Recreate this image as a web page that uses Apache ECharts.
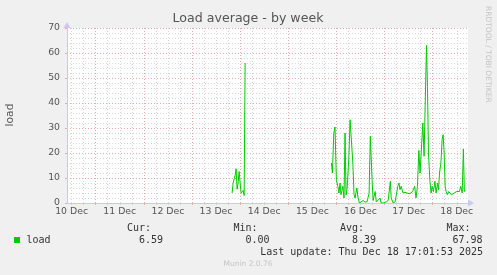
<!DOCTYPE html>
<html>
<head>
<meta charset="utf-8">
<script src="https://cdn.jsdelivr.net/npm/echarts@6/dist/echarts.min.js"></script>
<style>html,body{margin:0;padding:0;background:#f0f0f0;}#c{width:497px;height:275px;}</style>
</head>
<body>
<div id="c"></div>
<script>
// hours since 10 Dec 00:00
var hours = [
  92.0, 92.5, 93.0, 93.5, 94.0, 94.5, 95.0, 95.5, 96.0, 96.5, 97.0, 97.5, 98.0, 98.5, 99.0,
  141.5, 142.0, 142.7, 143.3, 144.0, 144.7, 145.3, 145.8, 146.3, 147.2, 147.8, 148.3, 148.8, 149.3,
  150.2, 150.8, 151.5, 152.2, 152.8, 153.3, 154.2, 154.8, 155.5, 156.3, 157.3, 158.3, 159.3, 160.3,
  160.9, 161.8, 162.3, 163.3, 163.9, 164.8, 165.8, 166.3, 167.3, 168.8, 169.8, 170.9, 171.3, 172.3,
  173.3, 174.6, 175.2, 175.7, 176.3, 177.2, 178.2, 179.2, 180.2, 181.2, 182.2, 183.0, 183.7, 184.4,
  185.1, 185.7, 186.4, 187.1, 187.7, 188.9, 189.4, 189.9, 190.6, 191.2, 191.7, 192.4, 193.1, 193.7,
  194.4, 194.9, 195.4, 196.1, 196.7, 197.2, 197.7, 198.2, 198.7, 199.3, 200.0, 200.7, 201.3, 202.0,
  202.7, 203.3, 204.0, 204.7, 205.3, 206.0, 206.7, 207.3, 207.8, 208.3
];
var load = [
  4, 8, 7.5, 11, 13.7, 5.5, 8, 12.6, 8, 4, 3.5, 5, 3, 56, null,
  16, 12, 28, 30.4, 9, 6.7, 4, 8, 3.3, 6.7, 2, 28, 3.3, 5.3,
  18, 33.3, 33.6, 16, 3.3, 2, 6, 2, 0, 0, 1, 0.4, 0.5, 4,
  26.7, 9, 1, 4.6, 0.4, 0, 2, 0, 0, 0.4, 1, 8.7, 2, 0,
  0.5, 6.7, 8, 5.3, 6.7, 4, 4.3, 4, 3.7, 4, 5, 6.7, 2, 6.7,
  21, 12, 11.3, 32, 18.7, 63, 46.7, 20, 9, 4, 6.7, 4.6, 8.7, 4,
  8, 5.3, 12, 16, 25.3, 27.3, 20, 6.7, 4.6, 3.3, 4.6, 4, 3.3, 3.7,
  4, 3.3, 4.6, 4, 4.6, 6.7, 4, 21.6, 4.6, 5
];
var dayLabels = ['10 Dec','11 Dec','12 Dec','13 Dec','14 Dec','15 Dec','16 Dec','17 Dec','18 Dec'];
var yTicks = [0, 10, 20, 30, 40, 50, 60, 70];
var statLabels = ['Cur:', 'Min:', 'Avg:', 'Max:'];
var statValues = ['6.59', '0.00', '8.39', '67.98'];
var seriesName = 'load';
var titleText = 'Load average - by week';
var lastUpdate = 'Last update: Thu Dec 18 17:01:53 2025';
var xMin = 9.7, xMax = 209.6;

var data = hours.map(function (h, i) { return [h, load[i]]; });
var midnights = [], noons = [], sixes = [];
for (var d = 0; d < dayLabels.length; d++) {
  var base = d * 24;
  noons.push(base + 12);
  if (base > xMin && base < xMax) midnights.push(base);
  [6, 12, 18].forEach(function (o) { if (base + o > xMin && base + o < xMax) sixes.push(base + o); });
}
if (dayLabels.length * 24 < xMax) midnights.push(dayLabels.length * 24);
[6].forEach(function (o) { var v = dayLabels.length * 24 + o; if (v < xMax) sixes.push(v); });

var majorColor = '#eaa9a9', minorColor = '#d6d6d6', axisColor = '#c8c8f4';
var font = 'DejaVu Sans', mono = 'DejaVu Sans Mono';

var graphics = [
  {type:'text', style:{text:titleText, x:248, y:19, align:'center', verticalAlign:'middle', font:'12.6px "DejaVu Sans"', fill:'#555'}},
  {type:'text', x:10, y:115, rotation:Math.PI/2, style:{text:seriesName, x:0, y:0, align:'center', verticalAlign:'middle', font:'10.7px "DejaVu Sans"', fill:'#555'}},
  {type:'text', x:488, y:6, rotation:-Math.PI/2, style:{text:'RRDTOOL / TOBI OETIKER', x:0, y:0, align:'left', verticalAlign:'middle', font:'7.5px "DejaVu Sans"', fill:'#c4c4c4'}},
  {type:'rect', shape:{x:14, y:237, width:6, height:6}, style:{fill:'#00cc00'}},
  {type:'text', style:{text:seriesName, x:26.5, y:240, align:'left', verticalAlign:'middle', font:'10px "DejaVu Sans Mono"', fill:'#333'}},
  {type:'text', style:{text:lastUpdate, x:483, y:252, align:'right', verticalAlign:'middle', font:'10px "DejaVu Sans Mono"', fill:'#333'}},
  {type:'text', style:{text:'Munin 2.0.76', x:248, y:264, align:'center', verticalAlign:'middle', font:'7.5px "DejaVu Sans"', fill:'#c4c4c4'}}
];
statLabels.forEach(function (s, i) {
  graphics.push({type:'text', style:{text:s, x:151 + i*106.5, y:228, align:'right', verticalAlign:'middle', font:'10px "DejaVu Sans Mono"', fill:'#333'}});
  graphics.push({type:'text', style:{text:statValues[i], x:163 + i*106.5, y:240, align:'right', verticalAlign:'middle', font:'10px "DejaVu Sans Mono"', fill:'#333'}});
});

var chart = echarts.init(document.getElementById('c'), null, {renderer:'canvas'});
chart.setOption({
  backgroundColor: '#f0f0f0',
  animation: false,
  grid: {left:67, top:28, width:401, height:175, show:true, backgroundColor:'#ffffff', borderWidth:0},
  xAxis: [
    {
      type:'value', min:xMin, max:xMax, position:'bottom', z:3,
      axisLine:{show:true, lineStyle:{color:axisColor, width:1}, symbol:['none','triangle'], symbolSize:[7,6], symbolOffset:[0,3]},
      axisTick:{show:true, length:2, customValues:midnights, lineStyle:{color:majorColor}},
      axisLabel:{show:true, customValues:noons, margin:4, fontSize:9.33, fontFamily:font, color:'#555',
        formatter:function (v) { return dayLabels[Math.round((v - 12) / 24)]; }},
      splitLine:{show:true, lineStyle:{color:majorColor, type:[1,2], width:1}}
    },
    {
      type:'value', min:xMin, max:xMax, position:'bottom', z:2,
      axisLine:{show:false},
      axisTick:{show:true, length:2, customValues:sixes, lineStyle:{color:minorColor}},
      axisLabel:{show:false},
      splitLine:{show:true, lineStyle:{color:minorColor, type:[1,2], width:1}}
    }
  ],
  yAxis: {
    type:'value', min:0, max:70, interval:10,
    axisLine:{show:true, lineStyle:{color:axisColor, width:1}, symbol:['none','triangle'], symbolSize:[7,6], symbolOffset:[0,3]},
    axisTick:{show:true, length:2, lineStyle:{color:majorColor}},
    axisLabel:{margin:7, fontSize:9.33, fontFamily:font, color:'#555',
      formatter:function (v) { return yTicks.indexOf(v) >= 0 ? String(v) : ''; }},
    splitLine:{show:true, lineStyle:{color:majorColor, type:[1,2], width:1}},
    minorTick:{show:false, splitNumber:5},
    minorSplitLine:{show:true, lineStyle:{color:minorColor, type:[1,2], width:1}}
  },
  series: [{
    name: seriesName, type:'line', xAxisIndex:0, data:data, showSymbol:false, connectNulls:false,
    lineStyle:{color:'#00cc00', width:1}, itemStyle:{color:'#00cc00'}, z:5
  }],
  graphic: graphics
});
</script>
</body>
</html>
